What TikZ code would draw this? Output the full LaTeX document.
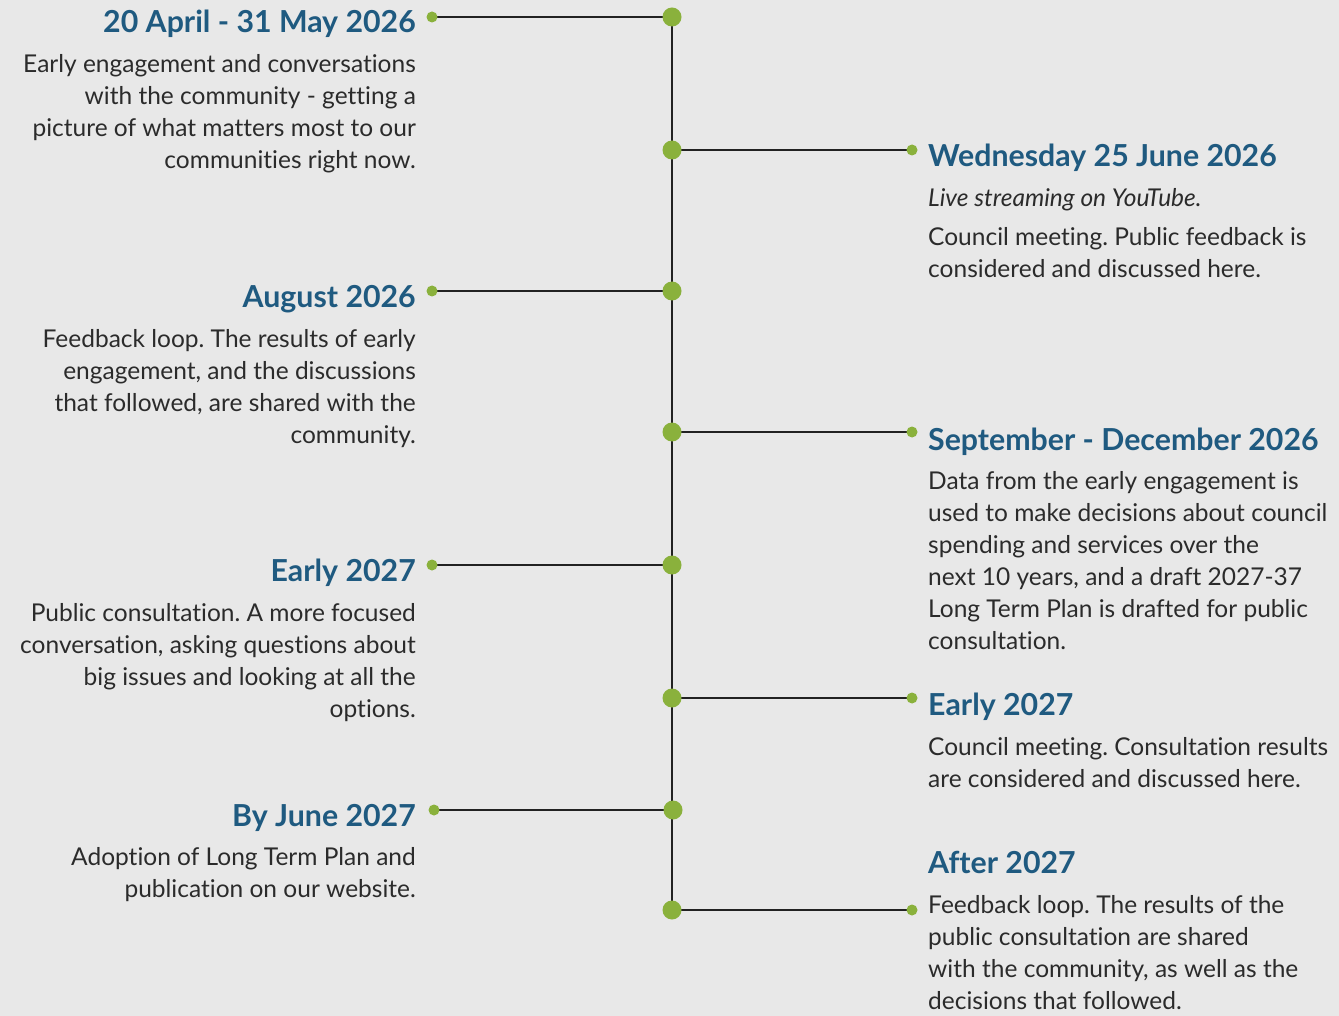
\documentclass[tikz,border=0pt]{standalone}
\usepackage{fontspec}
\setmainfont{Lato}[Ligatures=NoCommon]
\usepackage{tikz}
\usetikzlibrary{positioning,backgrounds}
\definecolor{bggrey}{HTML}{E8E8E8}
\definecolor{headblue}{HTML}{1F5A80}
\definecolor{dotgreen}{HTML}{8AB13C}
\definecolor{bodygrey}{HTML}{2B2B2B}
\definecolor{linegrey}{HTML}{222222}
\frenchspacing

\begin{document}
\begin{tikzpicture}[x=1pt,y=-1pt,
  hub/.style={circle,fill=dotgreen,inner sep=0pt,minimum size=19pt},
  tip/.style={circle,fill=dotgreen,inner sep=0pt,minimum size=11pt},
  spine/.style={draw=linegrey,line width=2.5pt},
  when/.style={font=\fontsize{30.3}{32}\selectfont\bfseries,text=headblue,inner sep=0pt},
  what/.style={font=\fontsize{24.5}{32}\selectfont,text=bodygrey,inner sep=0pt}]
  \useasboundingbox (0,0) rectangle (1339,1016);

  % dots on the spine
  \node[hub] (h1) at (672,17)  {};
  \node[hub] (h2) at (672,150) {};
  \node[hub] (h3) at (672,291) {};
  \node[hub] (h4) at (672,432) {};
  \node[hub] (h5) at (672,565) {};
  \node[hub] (h6) at (672,698) {};
  \node[hub] (h7) at (673,810) {};
  \node[hub] (h8) at (672,910) {};

  % ends of the branches
  \node[tip] (l1) at (432,17)  {};
  \node[tip] (r2) at (912,150) {};
  \node[tip] (l3) at (432,291) {};
  \node[tip] (r4) at (912,432) {};
  \node[tip] (l5) at (432,565) {};
  \node[tip] (r6) at (912,698) {};
  \node[tip] (l7) at (434,810) {};
  \node[tip] (r8) at (912,910) {};

  \begin{scope}[on background layer]
    \fill[bggrey] (0,0) rectangle (1339,1016);
    \path[spine] (h1.center) -- (h8.center);
    \path[spine] (l1.center) -- (h1.center)
                 (h2.center) -- (r2.center)
                 (l3.center) -- (h3.center)
                 (h4.center) -- (r4.center)
                 (l5.center) -- (h5.center)
                 (h6.center) -- (r6.center)
                 (l7.center) -- (h7.center)
                 (h8.center) -- (r8.center);
  \end{scope}

  % left side (body nodes sit on their last line)
  \node[when,anchor=base east] (t1) at (416,33) {20 April - 31 May 2026};
  \node[what,anchor=base east,align=right] (d1) at (416,169)
    {Early engagement and conversations\\with the community - getting a\\picture of what matters most to our\\communities right now.};
  \node[when,anchor=base east] (t3) at (416,308) {August 2026};
  \node[what,anchor=base east,align=right] (d3) at (416,443)
    {Feedback loop. The results of early\\engagement, and the discussions\\that followed, are shared with the\\community.};
  \node[when,anchor=base east] (t5) at (416,581) {Early 2027};
  \node[what,anchor=base east,align=right] (d5) at (416,717)
    {Public consultation. A more focused\\conversation, asking questions about\\big issues and looking at all the\\options.};
  \node[when,anchor=base east] (t7) at (416,826) {By June 2027};
  \node[what,anchor=base east,align=right] (d7) at (416,897)
    {Adoption of Long Term Plan and\\publication on our website.};

  % right side
  \node[when,anchor=base west] (t2) at (928,167) {Wednesday 25 June 2026};
  \node[what,anchor=base west,font=\fontsize{24.5}{32}\selectfont\itshape] (e2) at (928,207) {Live streaming on YouTube.};
  \node[what,anchor=base west,align=left] (d2) at (928,278)
    {Council meeting. Public feedback is\\considered and discussed here.};
  \node[when,anchor=base west] (t4) at (928,450) {September - December 2026};
  \node[what,anchor=base west,align=left] (d4) at (928,649)
    {Data from the early engagement is\\used to make decisions about council\\spending and services over the\\next 10 years, and a draft 2027-37\\Long Term Plan is drafted for public\\consultation.};
  \node[when,anchor=base west] (t6) at (928,715) {Early 2027};
  \node[what,anchor=base west,align=left] (d6) at (928,787)
    {Council meeting. Consultation results\\are considered and discussed here.};
  \node[when,anchor=base west] (t8) at (928,873) {After 2027};
  \node[what,anchor=base west,align=left] (d8) at (928,1009)
    {Feedback loop. The results of the\\public consultation are shared\\with the community, as well as the\\decisions that followed.};
\end{tikzpicture}
\end{document}
